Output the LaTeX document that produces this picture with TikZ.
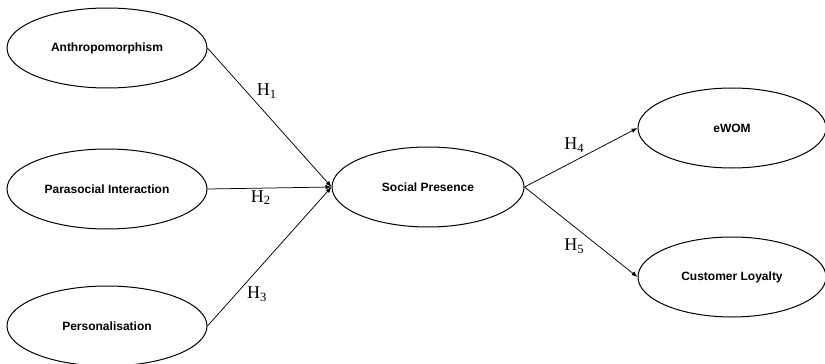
\documentclass[tikz,border=0pt]{standalone}
\usepackage{fontspec}
\setsansfont{Liberation Sans}
\newfontfamily\hipfont{Liberation Serif}
\usetikzlibrary{arrows.meta,positioning,shapes.geometric}
\tikzset{
  construto/.style={ellipse, draw=black, line width=1pt, fill=white,
                minimum width=200pt, minimum height=80pt, inner sep=0pt,
                font=\sffamily\bfseries\fontsize{12}{14}\selectfont},
  seta/.style={-{Latex[length=6pt,width=4.5pt]}, line width=0.75pt, black},
  rotulo/.style={font=\hipfont\fontsize{18}{20}\selectfont, inner sep=2pt},
}

\begin{document}
\begin{tikzpicture}[x=1pt, y=-1pt]
  \useasboundingbox (0,0) rectangle (825,364);

  % Antecedentes
  \node[construto] (antro) at (107,48)  {Anthropomorphism};
  \node[construto] (paras) at (107,189) {Parasocial Interaction};
  \node[construto] (perso) at (107,326) {Personalisation};

  % Mediador
  \node[construto, minimum width=192pt] (social) at (428,187) {Social Presence};

  % Resultados
  \node[construto, minimum width=188pt] (ewom)  at (732,128) {eWOM};
  \node[construto, minimum width=188pt] (leal)  at (732,277) {Customer Loyalty};

  % Hipoteses
  \draw[seta] (antro.east) -- (social.west)
    node[pos=0.38, above right, rotulo] {H\textsubscript{1}};
  \draw[seta] (paras.east) -- (social.west)
    node[pos=0.43, below, rotulo] {H\textsubscript{2}};
  \draw[seta] (perso.east) -- (social.west)
    node[pos=0.3, below right, rotulo] {H\textsubscript{3}};
  \draw[seta] (social.east) -- (ewom.west)
    node[pos=0.55, above left, rotulo] {H\textsubscript{4}};
  \draw[seta] (social.east) -- (leal.west)
    node[pos=0.55, below left, rotulo] {H\textsubscript{5}};
\end{tikzpicture}
\end{document}
